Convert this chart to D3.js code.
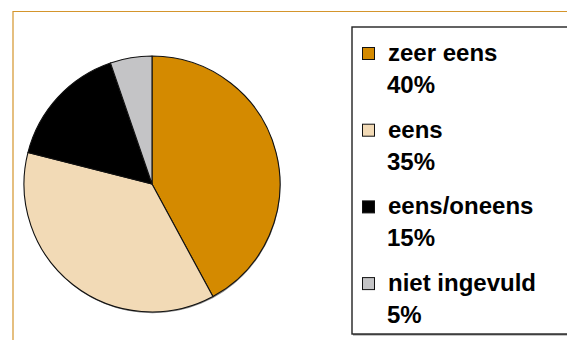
<!DOCTYPE html>
<html>
<head>
<meta charset="utf-8">
<script src="https://cdn.jsdelivr.net/npm/d3@7"></script>
<style>
  html, body { margin: 0; padding: 0; background: #fff; }
  svg { display: block; }
</style>
</head>
<body>
<svg id="chart" width="567" height="340"></svg>
<script>
const categories = ["zeer eens", "eens", "eens/oneens", "niet ingevuld"];
const values = [40, 35, 15, 5];
const valueLabels = ["40%", "35%", "15%", "5%"];
const colors = ["#d48a00", "#f2dab6", "#000000", "#c4c4c6"];

const svg = d3.select("#chart");

// outer frame (top and left lines)
svg.append("path")
  .attr("d", "M13,340 L13,11.5 L567,11.5")
  .attr("fill", "none")
  .attr("stroke", "#d4952c")
  .attr("stroke-width", 1.2);

// pie
const cx = 152, cy = 184, r = 128;
const pie = d3.pie().sort(null).value(d => d)(values);
const arc = d3.arc().innerRadius(0).outerRadius(r);
const g = svg.append("g").attr("transform", `translate(${cx},${cy})`);

// shadow
g.append("circle").attr("cx", 0.5).attr("cy", 1.2).attr("r", r).attr("fill", "#8a8a8a");

g.selectAll("path.slice")
  .data(pie)
  .join("path")
  .attr("class", "slice")
  .attr("d", arc)
  .attr("fill", (d, i) => colors[i])
  .attr("stroke", "#111")
  .attr("stroke-width", 1.1)
  .attr("stroke-linejoin", "round");

// legend box
const lx = 352, ly = 27, lw = 240, lh = 307;
svg.append("rect")
  .attr("x", lx + 1).attr("y", ly + 1.5).attr("width", lw).attr("height", lh)
  .attr("fill", "#888");
svg.append("rect")
  .attr("x", lx).attr("y", ly).attr("width", lw).attr("height", lh)
  .attr("fill", "#fff").attr("stroke", "#222").attr("stroke-width", 1.4);

const y0 = 61, step = 76.7;
const legend = svg.append("g");
const items = legend.selectAll("g.item")
  .data(categories)
  .join("g")
  .attr("class", "item")
  .attr("transform", (d, i) => `translate(0,${y0 + step * i})`);

items.append("rect")
  .attr("x", 362.5).attr("y", -13.5)
  .attr("width", 12).attr("height", 12)
  .attr("fill", (d, i) => colors[i])
  .attr("stroke", "#111").attr("stroke-width", 1);

items.append("text")
  .attr("x", 388).attr("y", 0)
  .attr("font-family", "Liberation Sans, Arial, sans-serif")
  .attr("font-weight", "bold")
  .attr("font-size", 24)
  .attr("fill", "#000")
  .text(d => d);

items.append("text")
  .attr("x", 387).attr("y", 32)
  .attr("font-family", "Liberation Sans, Arial, sans-serif")
  .attr("font-weight", "bold")
  .attr("font-size", 24)
  .attr("fill", "#000")
  .text((d, i) => valueLabels[i]);
</script>
</body>
</html>
